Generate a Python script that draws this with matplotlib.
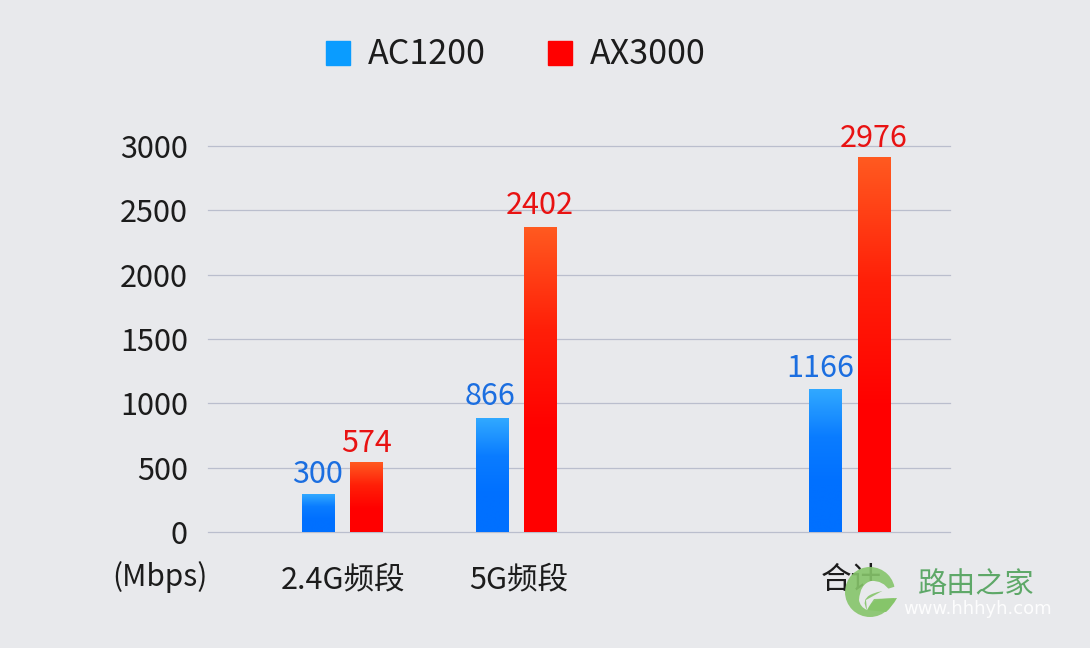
import matplotlib
matplotlib.use('Agg')
import matplotlib.pyplot as plt
from matplotlib.colors import LinearSegmentedColormap
from matplotlib.patches import Patch, Circle, PathPatch
from matplotlib.path import Path
import numpy as np

plt.rcParams['font.family'] = ['Noto Sans CJK SC', 'DejaVu Sans']

categories = ['2.4G频段', '5G频段', '合计']
series_names = ['AC1200', 'AX3000']
# bar heights as drawn in the picture, they do not quite follow the printed labels
ac_bars = [295, 886, 1104]
ax_bars = [544, 2370, 2914]
ac_labels = ['300', '866', '1166']
ax_labels = ['574', '2402', '2976']
y_ticks = [0, 500, 1000, 1500, 2000, 2500, 3000]

W, H = 1090, 648
BG = '#e8e9ec'
x_pos = [342.5, 516.5, 850]   # group centres, pixels
label_pos = [343, 518.5, 851]
ac_shift = [-0.5, -2.5, -5.5]  # label shift from bar centre, pixels
ax_shift = [0.5, -0.5, -0.5]
ac_gap = [11, 13, 13]
ax_gap = [10, 13, 10]


def px(x, y):
    return x / W, 1 - y / H


fig = plt.figure(figsize=(W / 100, H / 100), dpi=100, facecolor=BG)
ax = fig.add_axes([208 / W, 1 - 532 / H, (950 - 208) / W, 386 / H], facecolor=BG)

blue_cm = LinearSegmentedColormap.from_list('b', ['#31a9ff', '#0a7cff', '#0070ff', '#0070ff'])
red_cm = LinearSegmentedColormap.from_list('r', ['#ff5a20', '#ff1f08', '#ff0000', '#ff0000'])
grad = np.linspace(0, 1, 256).reshape(-1, 1)


def grad_bar(x, w, h, cmap):
    ax.imshow(grad, cmap=cmap, aspect='auto', extent=(x - w / 2, x + w / 2, 0, h),
              zorder=3, vmin=0, vmax=1, interpolation='bilinear')


for i, c in enumerate(x_pos):
    grad_bar(c - 24.5, 33, ac_bars[i], blue_cm)
    grad_bar(c + 24, 33, ax_bars[i], red_cm)
    ax.annotate(ac_labels[i], (c - 24, ac_bars[i]), xytext=(ac_shift[i] * 0.72, ac_gap[i] * 0.72),
                textcoords='offset points', ha='center', va='baseline',
                fontsize=22, color='#1b6ee0', zorder=4)
    ax.annotate(ax_labels[i], (c + 24, ax_bars[i]), xytext=(ax_shift[i] * 0.72, ax_gap[i] * 0.72),
                textcoords='offset points', ha='center', va='baseline',
                fontsize=22, color='#e81212', zorder=4)

ax.set_xlim(208, 950)
ax.set_ylim(0, 3000)
ax.set_yticks(y_ticks)
ax.set_xticks(label_pos)
ax.set_xticklabels(categories)
ax.tick_params(axis='y', length=0, pad=14.4, labelsize=22, labelcolor='#1c1c1c')
ax.tick_params(axis='x', length=0, pad=23.5, labelsize=22, labelcolor='#1c1c1c')
ax.grid(axis='y', color='#babecd', linewidth=0.9, clip_on=False)
ax.set_axisbelow(True)
for s in ax.spines.values():
    s.set_visible(False)

fig.text(*px(160, 577), '(Mbps)', fontsize=21.5, color='#1c1c1c', ha='center', va='center')

handles = [Patch(color='#0a9cff', label=series_names[0]), Patch(color='#ff0000', label=series_names[1])]
fig.legend(handles=handles, loc='center', bbox_to_anchor=px(516, 55), ncol=2, frameon=False,
           fontsize=24.5, handlelength=0.71, handleheight=0.71, handletextpad=0.53,
           columnspacing=1.82, borderpad=0, labelcolor='#1c1c1c')

# watermark: leaf logo and site name
logo = '#86c56a'
ov = fig.add_axes([0, 0, 1, 1], facecolor='none')
ov.set_xlim(0, W)
ov.set_ylim(H, 0)
ov.axis('off')
ov.add_patch(Circle((870, 592), 25, color=logo, alpha=0.9, lw=0))
hook = Path([(890, 591), (883, 580), (871, 581), (860, 584), (859, 600), (860, 607), (867, 610),
             (861, 600), (870, 595), (880, 590), (890, 591)],
            [Path.MOVETO, Path.CURVE3, Path.CURVE3, Path.CURVE3, Path.CURVE3, Path.CURVE3, Path.CURVE3,
             Path.CURVE3, Path.CURVE3, Path.CURVE3, Path.CURVE3])
ov.add_patch(PathPatch(hook, fc=BG, ec='none'))
gap = Path([(884, 590), (897, 586), (899, 598), (874, 599), (869, 606), (867, 610), (866, 600), (884, 590)],
           [Path.MOVETO, Path.LINETO, Path.LINETO, Path.LINETO, Path.CURVE3, Path.CURVE3, Path.LINETO, Path.CLOSEPOLY])
ov.add_patch(PathPatch(gap, fc=BG, ec='none'))
tail = Path([(868, 610), (872, 599), (882, 599), (897, 598), (892, 607), (886, 612), (868, 610)],
            [Path.MOVETO, Path.CURVE3, Path.CURVE3, Path.LINETO, Path.CURVE3, Path.CURVE3, Path.LINETO])
ov.add_patch(PathPatch(tail, fc=logo, ec='none'))
ov.text(976, 585, '路由之家', fontsize=21, color='#5ea868', ha='center', va='center')
ov.text(977.5, 609, 'www.hhhyh.com', fontsize=13, color='#ffffff', ha='center', va='center',
        family='DejaVu Sans', alpha=0.9)

fig.savefig('out.png', dpi=100, facecolor=BG)
